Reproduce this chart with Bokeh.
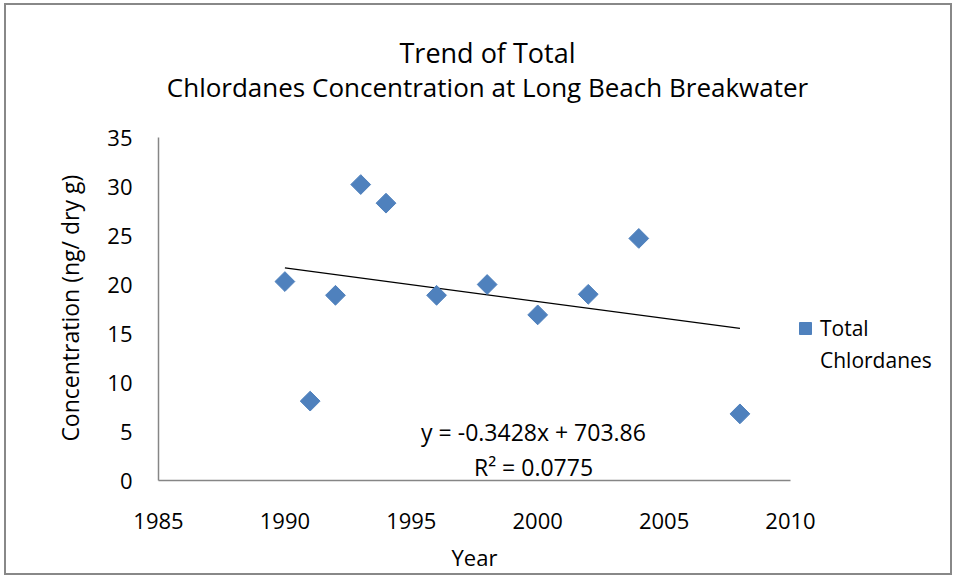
import math
from bokeh.plotting import figure
from bokeh.models import Range1d, Label, Legend, LegendItem, FixedTicker
from bokeh.embed import file_html
from bokeh.resources import INLINE

# ---- data ----
years = [1990, 1991, 1992, 1993, 1994, 1996, 1998, 2000, 2002, 2004, 2008]
conc = [20.3, 8.1, 18.9, 30.2, 28.3, 18.9, 20.0, 16.9, 19.0, 24.7, 6.8]
slope = -0.3428
intercept = 703.86
r2 = 0.0775
x_ticks = [1985, 1990, 1995, 2000, 2005, 2010]
y_ticks = [0, 5, 10, 15, 20, 25, 30, 35]
title_lines = ["Trend of Total", "Chlordanes Concentration at Long Beach Breakwater"]
legend_lines = ["Total", "Chlordanes"]
x_label = "Year"
y_label = "Concentration (ng/ dry g)"

FONT = "Open Sans"
BLUE = "#4F81BD"
AXIS = "#868686"
NBSP = "\u00a0"

# axes cover 1985-2010 and 0-35; the frame is widened/raised so that the
# title, equation and legend (annotations) can sit inside it.
p = figure(width=948, height=572, output_backend="svg", toolbar_location=None,
           x_range=Range1d(1985, 2016.33), y_range=Range1d(0, 47.96),
           min_border_left=152, min_border_right=4, min_border_top=5, min_border_bottom=97)
p.title.text = ""
p.styles = {"border": "2px solid #888888", "margin-left": "4px", "margin-top": "3px"}
p.outline_line_color = None
p.xgrid.grid_line_color = None
p.ygrid.grid_line_color = None

for ax in (p.xaxis, p.yaxis):
    ax.axis_line_color = AXIS
    ax.axis_line_width = 1.5
    ax.major_tick_line_color = None
    ax.minor_tick_line_color = None
    ax.major_label_text_font = FONT
    ax.major_label_text_font_size = "22px"
    ax.major_label_text_color = "#000000"
    ax.axis_label_text_font = FONT
    ax.axis_label_text_font_size = "22px"
    ax.axis_label_text_font_style = "normal"
    ax.axis_label_text_color = "#000000"

p.xaxis.ticker = FixedTicker(ticks=x_ticks)
p.yaxis.ticker = FixedTicker(ticks=y_ticks)
p.xaxis.bounds = (x_ticks[0], x_ticks[-1])
p.yaxis.bounds = (y_ticks[0], y_ticks[-1])
p.xaxis.major_label_standoff = 26
p.yaxis.major_label_standoff = 20
# axis labels padded with no-break spaces so they sit centred on the drawn axes
p.xaxis.axis_label = x_label + NBSP * 28
p.yaxis.axis_label = y_label + NBSP * 21
p.yaxis.axis_label_text_font_size = "23px"
p.xaxis.axis_label_standoff = 10
p.yaxis.axis_label_standoff = 18

# trendline
tx = [min(years), max(years)]
ty = [slope * x + intercept for x in tx]
p.line(tx, ty, line_color="black", line_width=1.2)

r = p.scatter(years, conc, marker="square", angle=math.pi / 4, size=14,
              fill_color=BLUE, line_color=BLUE)
# invisible renderer for the wrapped second line of the legend label
r_blank = p.scatter(x=[], y=[], marker="square", fill_alpha=0, line_alpha=0)

legend = Legend(items=[LegendItem(label=legend_lines[0], renderers=[r]),
                       LegendItem(label=legend_lines[1], renderers=[r_blank])],
                location=(632, 105), border_line_color=None, background_fill_alpha=0,
                label_text_font=FONT, label_text_font_size="21px", label_text_color="black",
                glyph_width=30, glyph_height=30, label_height=30, label_standoff=0,
                spacing=2, padding=0, margin=0)
p.add_layout(legend, "center")

# equation
eq1 = "y = %.4fx + %.2f" % (slope, intercept)
eq2 = "R\u00b2 = %.4f" % r2
p.add_layout(Label(x=375, y=49, x_units="screen", y_units="screen", text=eq1,
                   text_align="center", text_baseline="middle", text_font=FONT,
                   text_font_size="23px", text_color="black"))
p.add_layout(Label(x=375, y=14, x_units="screen", y_units="screen", text=eq2,
                   text_align="center", text_baseline="middle", text_font=FONT,
                   text_font_size="23px", text_color="black"))

# title lines
p.add_layout(Label(x=329, y=428, x_units="screen", y_units="screen", text=title_lines[0],
                   text_align="center", text_baseline="middle", text_font=FONT,
                   text_font_size="27px", text_color="black"))
p.add_layout(Label(x=329, y=394, x_units="screen", y_units="screen", text=title_lines[1],
                   text_align="center", text_baseline="middle", text_font=FONT,
                   text_font_size="26px", text_color="black"))

open("out.html", "w").write(file_html(p, INLINE))
